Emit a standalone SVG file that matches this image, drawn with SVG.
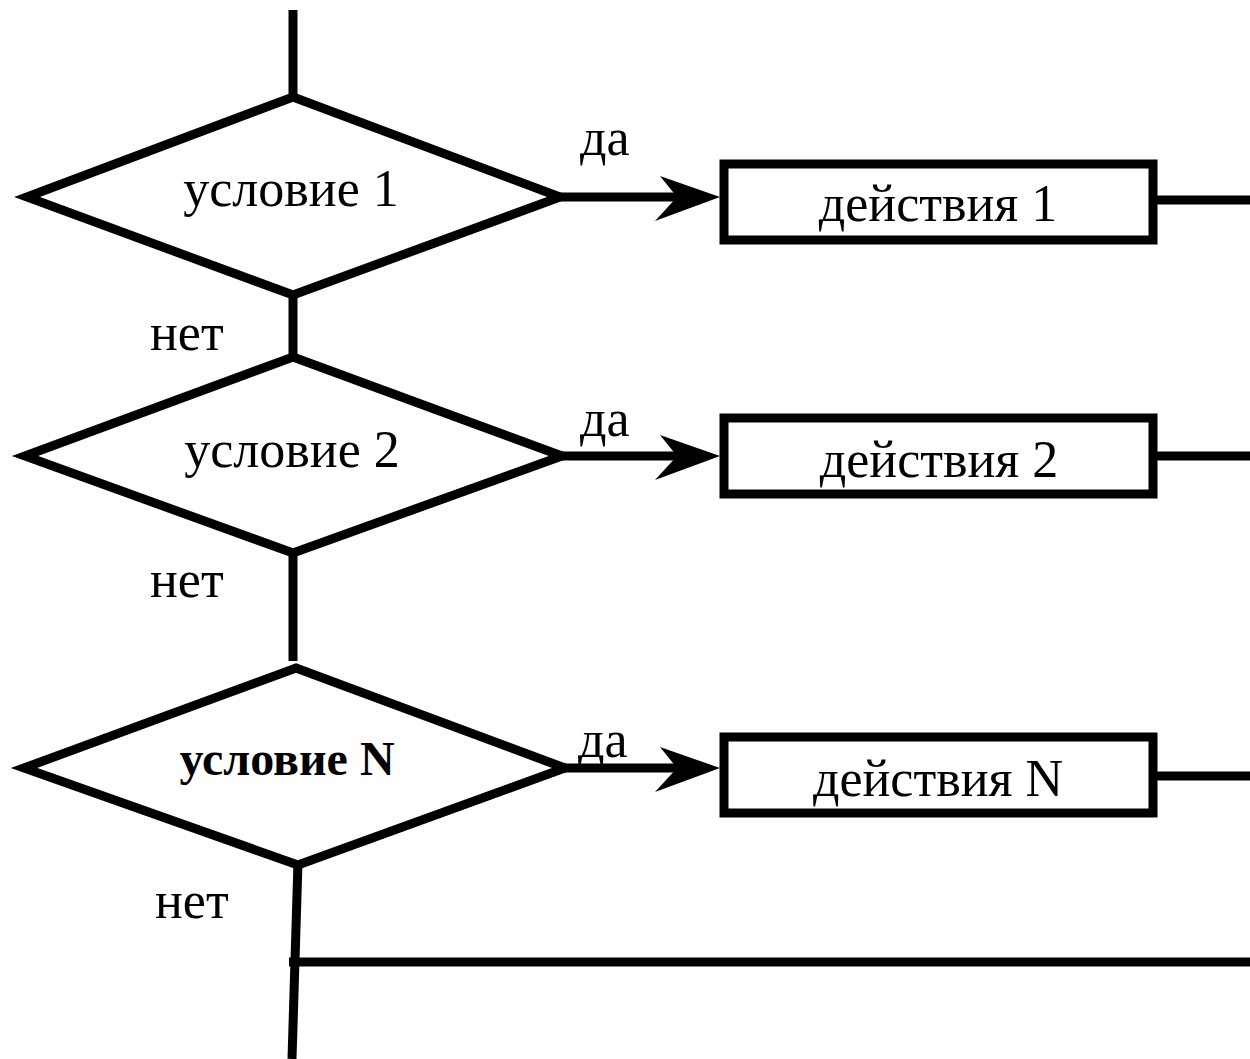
<svg xmlns="http://www.w3.org/2000/svg" width="1250" height="1059" viewBox="0 0 1250 1059">
  <style>
    .shape { fill: #fff; stroke: #000; stroke-width: 9; stroke-linejoin: miter; }
    .line { fill: none; stroke: #000; stroke-width: 9; }
    .lbl { font-family: "Liberation Serif", "Times New Roman", serif; font-size: 52px; fill: #000; }
    .mid { text-anchor: middle; }
    .bold { font-weight: bold; font-size: 48px; }
  </style>
  <defs>
    <marker id="arrow" viewBox="0 0 66 46" refX="40" refY="22" markerWidth="66" markerHeight="46" markerUnits="userSpaceOnUse" orient="auto">
      <path d="M5,1 L65,22 L0,46 L22,22 Z" fill="#000"/>
    </marker>
  </defs>

  <!-- connectors -->
  <g id="connectors">
    <line class="line" x1="293" y1="10" x2="293" y2="97"/>
    <line class="line" x1="293" y1="295" x2="293" y2="357"/>
    <line class="line" x1="293" y1="553" x2="293" y2="661"/>
    <line class="line" x1="298" y1="862" x2="292" y2="1059"/>
    <line class="line" x1="289" y1="962" x2="1250" y2="962"/>

    <line class="line" x1="560" y1="197" x2="695" y2="197" marker-end="url(#arrow)"/>
    <line class="line" x1="562" y1="456" x2="695" y2="456" marker-end="url(#arrow)"/>
    <line class="line" x1="565" y1="768" x2="695" y2="768" marker-end="url(#arrow)"/>

    <line class="line" x1="1157" y1="200" x2="1250" y2="200"/>
    <line class="line" x1="1157" y1="456" x2="1250" y2="456"/>
    <line class="line" x1="1157" y1="776" x2="1250" y2="776"/>

    <text class="lbl" x="580" y="155">да</text>
    <text class="lbl" x="580" y="436">да</text>
    <text class="lbl" x="578" y="757">да</text>
    <text class="lbl" x="150" y="350">нет</text>
    <text class="lbl" x="150" y="597">нет</text>
    <text class="lbl" x="155" y="918">нет</text>
  </g>

  <!-- decisions -->
  <g id="cond1">
    <polygon class="shape" points="293,97 560,197 293,295 27,197"/>
    <text class="lbl mid" x="291" y="206">условие 1</text>
  </g>
  <g id="cond2">
    <polygon class="shape" points="293,357 562,456 293,553 25,456"/>
    <text class="lbl mid" x="292" y="467">условие 2</text>
  </g>
  <g id="condN">
    <polygon class="shape" points="296,668 565,768 298,865 24,768"/>
    <text class="lbl mid bold" x="287" y="775">условие N</text>
  </g>

  <!-- actions -->
  <g id="act1">
    <rect class="shape" x="724" y="164" width="429" height="76"/>
    <text class="lbl mid" x="938" y="221">действия 1</text>
  </g>
  <g id="act2">
    <rect class="shape" x="724" y="418" width="429" height="76"/>
    <text class="lbl mid" x="939" y="477">действия 2</text>
  </g>
  <g id="actN">
    <rect class="shape" x="724" y="737" width="429" height="76"/>
    <text class="lbl mid" x="938" y="796">действия N</text>
  </g>
</svg>
